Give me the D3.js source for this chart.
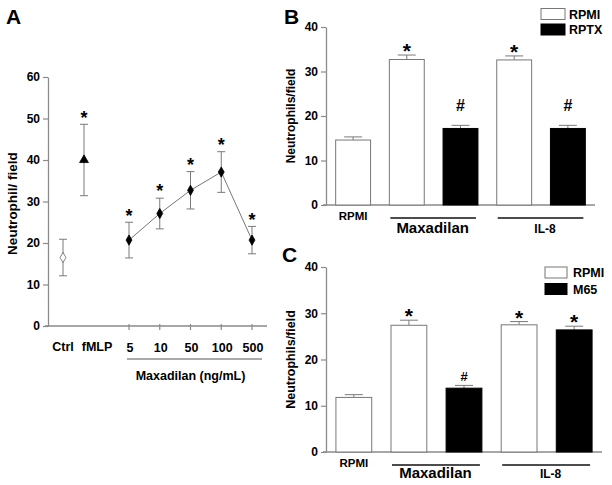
<!DOCTYPE html>
<html>
<head>
<meta charset="utf-8">
<script src="https://cdn.jsdelivr.net/npm/d3@7"></script>
<style>
  body { margin: 0; background: #fff; }
  svg { display: block; font-family: "Liberation Sans", Arial, sans-serif; font-weight: bold; }
</style>
</head>
<body>
<svg id="chart" width="612" height="485"></svg>
<script>
// ---- Panel A data (neutrophils per field, mean +/- error)
const ctrlLabels = ['Ctrl', 'fMLP'];
const ctrlMeans = [16.5, 40.0];
const ctrlErrs = [4.4, 8.6];
const ctrlSig = ['', '*'];
const doseLabels = ['5', '10', '50', '100', '500'];
const doseMeans = [20.7, 27.1, 32.7, 37.1, 20.7];
const doseErrs = [4.3, 3.7, 4.5, 4.9, 3.3];
const doseSig = ['*', '*', '*', '*', '*'];
const ticksA = [0, 10, 20, 30, 40, 50, 60];

// ---- Panels B and C data (5 bars each)
const slotGroups = ['RPMI', 'Maxadilan', 'Maxadilan', 'IL-8', 'IL-8'];
const seriesB = ['RPMI', 'RPMI', 'RPTX', 'RPMI', 'RPTX'];
const valuesB = [14.6, 32.7, 17.2, 32.6, 17.2];
const errorsB = [0.7, 1.0, 0.7, 0.9, 0.7];
const sigB = ['', '*', '#', '*', '#'];
const seriesC = ['RPMI', 'RPMI', 'M65', 'RPMI', 'M65'];
const valuesC = [11.8, 27.4, 13.8, 27.5, 26.4];
const errorsC = [0.6, 1.1, 0.6, 0.7, 0.8];
const sigC = ['', '*', '#', '*', '*'];
const ticksBC = [0, 10, 20, 30, 40];

const svg = d3.select('#chart');
const axisGray = '#8a8a8a';
const errGray = '#7a7a7a';

function styleAxis(g) {
  g.select('.domain').attr('stroke', axisGray).attr('stroke-width', 1.3);
  g.selectAll('.tick line').attr('stroke', axisGray).attr('stroke-width', 1.2);
  g.selectAll('.tick text').attr('fill', '#000').style('font-size', '12px').style('font-weight', 'bold')
    .style('font-family', '"Liberation Sans", Arial, sans-serif');
}

// ===================== Panel A =====================
const yA = d3.scaleLinear().domain([0, 60]).range([326, 77]);
const xCtrl = d3.scalePoint().domain(ctrlLabels).range([63, 84]);
const xCtrlLab = d3.scalePoint().domain(ctrlLabels).range([63, 97]);
const xDose = d3.scalePoint().domain(doseLabels).range([129, 252]);

svg.append('text').attr('x', 6).attr('y', 24).style('font-size', '21px').text('A');

svg.append('g').attr('transform', 'translate(48,0)')
  .call(d3.axisLeft(yA).tickValues(ticksA).tickSize(5).tickSizeOuter(0).tickPadding(3))
  .call(styleAxis);

// x axis line and dose ticks
svg.append('line').attr('x1', 45).attr('x2', 267).attr('y1', yA(0)).attr('y2', yA(0))
  .attr('stroke', axisGray).attr('stroke-width', 1.3);
svg.selectAll('.dtick').data(doseLabels).enter().append('line')
  .attr('x1', d => xDose(d)).attr('x2', d => xDose(d))
  .attr('y1', yA(0) - 2).attr('y2', yA(0) + 4)
  .attr('stroke', axisGray).attr('stroke-width', 1.2);

svg.append('text').attr('transform', 'translate(17,' + (yA(30) + 2) + ') rotate(-90)')
  .attr('text-anchor', 'middle').style('font-size', '13.5px').text('Neutrophil/ field');

// category labels
svg.selectAll('.clab').data(ctrlLabels).enter().append('text')
  .attr('x', d => xCtrlLab(d)).attr('y', 351).attr('text-anchor', 'middle')
  .style('font-size', '12.5px').text(d => d);
svg.selectAll('.dlab').data(doseLabels).enter().append('text')
  .attr('x', d => xDose(d) + 1).attr('y', 352).attr('text-anchor', 'middle')
  .style('font-size', '12.5px').text(d => d);
svg.append('line').attr('x1', xDose('5') - 2).attr('x2', xDose('500') + 10)
  .attr('y1', 359).attr('y2', 359).attr('stroke', '#555').attr('stroke-width', 1);
svg.append('text').attr('x', (xDose('5') + xDose('500')) / 2).attr('y', 380)
  .attr('text-anchor', 'middle').style('font-size', '12.5px').text('Maxadilan (ng/mL)');

// points
const ptsA = ctrlLabels.map((c, i) => ({ x: xCtrl(c), m: ctrlMeans[i], e: ctrlErrs[i], s: ctrlSig[i], kind: i === 0 ? 'open' : 'tri' }))
  .concat(doseLabels.map((c, i) => ({ x: xDose(c), m: doseMeans[i], e: doseErrs[i], s: doseSig[i], kind: 'dia' })));

const eA = svg.append('g');
ptsA.forEach(p => {
  eA.append('line').attr('x1', p.x).attr('x2', p.x).attr('y1', yA(p.m - p.e)).attr('y2', yA(p.m + p.e))
    .attr('stroke', errGray).attr('stroke-width', 1);
  [p.m - p.e, p.m + p.e].forEach(v => {
    eA.append('line').attr('x1', p.x - 4).attr('x2', p.x + 4).attr('y1', yA(v)).attr('y2', yA(v))
      .attr('stroke', errGray).attr('stroke-width', 1);
  });
});

svg.append('path')
  .datum(ptsA.filter(p => p.kind === 'dia'))
  .attr('d', d3.line().x(d => d.x).y(d => yA(d.m)))
  .attr('fill', 'none').attr('stroke', '#777').attr('stroke-width', 1);

ptsA.forEach(p => {
  const sym = p.kind === 'tri' ? d3.symbolTriangle : d3.symbolDiamond;
  const size = p.kind === 'tri' ? 34 : 30;
  svg.append('path').attr('d', d3.symbol().type(sym).size(size)())
    .attr('transform', 'translate(' + p.x + ',' + yA(p.m) + ')')
    .attr('fill', p.kind === 'open' ? '#fff' : '#000')
    .attr('stroke', p.kind === 'open' ? '#666' : '#000').attr('stroke-width', 0.8);
  if (p.s) {
    svg.append('text').attr('x', p.x).attr('y', yA(p.m + p.e) - 11 + 0.57 * 18)
      .attr('text-anchor', 'middle').style('font-size', '18px').text(p.s);
  }
});

// ===================== Panels B and C =====================
const seriesColor = d3.scaleOrdinal().domain(['RPMI', 'RPTX', 'M65']).range(['#fff', '#000', '#000']);

function barPanel(cfg) {
  const y = d3.scaleLinear().domain([0, 40]).range([cfg.y0, cfg.y1]);
  const x = d3.scaleBand().domain(d3.range(5)).range([cfg.xl, cfg.xr]).paddingInner(0.35).paddingOuter(0.18);
  const bw = x.bandwidth();

  svg.append('text').attr('x', cfg.letterX).attr('y', cfg.letterY).style('font-size', '21px').text(cfg.letter);

  svg.append('g').attr('transform', 'translate(' + cfg.xl + ',0)')
    .call(d3.axisLeft(y).tickValues(ticksBC).tickSize(5).tickSizeOuter(0).tickPadding(3))
    .call(styleAxis);
  svg.append('line').attr('x1', cfg.xl - 3).attr('x2', cfg.xr).attr('y1', y(0)).attr('y2', y(0))
    .attr('stroke', axisGray).attr('stroke-width', 1.3);

  svg.append('text').attr('transform', 'translate(295,' + y(20) + ') rotate(-90)')
    .attr('text-anchor', 'middle').style('font-size', cfg.ylabSize).text('Neutrophils/field');

  const idx = d3.range(5);
  // error bars (upper only)
  idx.forEach(i => {
    const cx = x(i) + bw / 2;
    svg.append('line').attr('x1', cx).attr('x2', cx).attr('y1', y(cfg.values[i])).attr('y2', y(cfg.values[i] + cfg.errors[i]))
      .attr('stroke', errGray).attr('stroke-width', 1);
    svg.append('line').attr('x1', cx - 9).attr('x2', cx + 9)
      .attr('y1', y(cfg.values[i] + cfg.errors[i])).attr('y2', y(cfg.values[i] + cfg.errors[i]))
      .attr('stroke', errGray).attr('stroke-width', 1);
  });

  svg.selectAll('.bar' + cfg.letter).data(idx).enter().append('rect')
    .attr('x', i => x(i)).attr('y', i => y(cfg.values[i]))
    .attr('width', bw).attr('height', i => y(0) - y(cfg.values[i]))
    .attr('fill', i => seriesColor(cfg.series[i]))
    .attr('stroke', i => cfg.series[i] === 'RPMI' ? '#777' : '#000').attr('stroke-width', 1);

  // significance marks
  idx.filter(i => cfg.sig[i]).forEach(i => {
    const top = y(cfg.values[i] + cfg.errors[i]);
    const isHash = cfg.sig[i] === '#';
    const fs = isHash ? cfg.hashSize : 21;
    const gap = isHash ? cfg.hashGap : 9;
    const base = top - gap + (isHash ? 0.35 : 0.57) * fs;
    svg.append('text').attr('x', x(i) + bw / 2).attr('y', base).attr('text-anchor', 'middle')
      .style('font-size', fs + 'px').text(cfg.sig[i]);
  });

  // group labels
  const groups = Array.from(new Set(slotGroups));
  groups.forEach(g => {
    const members = idx.filter(i => slotGroups[i] === g);
    const left = x(members[0]);
    const right = x(members[members.length - 1]) + bw;
    if (members.length > 1) {
      svg.append('line').attr('x1', left + 1).attr('x2', right - 2)
        .attr('y1', cfg.lineY).attr('y2', cfg.lineY).attr('stroke', '#111').attr('stroke-width', 1.5);
      svg.append('text').attr('x', (left + right) / 2 + (g === 'Maxadilan' ? -1 : 4))
        .attr('y', cfg.groupY).attr('text-anchor', 'middle')
        .style('font-size', g === 'Maxadilan' ? '15px' : '12px').text(g);
    } else {
      svg.append('text').attr('x', (left + right) / 2).attr('y', cfg.singleY).attr('text-anchor', 'middle')
        .style('font-size', '11.5px').text(g);
    }
  });

  // legend
  const legKeys = Array.from(new Set(cfg.series));
  legKeys.forEach((k, j) => {
    svg.append('rect').attr('x', cfg.legX).attr('y', cfg.legY + j * cfg.legStep)
      .attr('width', cfg.legW).attr('height', 11)
      .attr('fill', seriesColor(k)).attr('stroke', k === 'RPMI' ? '#777' : '#000').attr('stroke-width', 1);
    svg.append('text').attr('x', cfg.legX + cfg.legW + cfg.legGap).attr('y', cfg.legY + j * cfg.legStep + 10)
      .style('font-size', '12.5px').text(k);
  });
}

barPanel({
  letter: 'B', letterX: 284, letterY: 24,
  xl: 326, xr: 595, y0: 205, y1: 27,
  values: valuesB, errors: errorsB, sig: sigB, series: seriesB,
  hashSize: 16, hashGap: 20, ylabSize: '12px',
  lineY: 218, groupY: 233, singleY: 220,
  legX: 541, legY: 8.5, legStep: 15.5, legW: 24, legGap: 4
});

barPanel({
  letter: 'C', letterX: 282, letterY: 262,
  xl: 326, xr: 602, y0: 452, y1: 267,
  values: valuesC, errors: errorsC, sig: sigC, series: seriesC,
  hashSize: 13, hashGap: 9, ylabSize: '12.5px',
  lineY: 465, groupY: 478, singleY: 467,
  legX: 545, legY: 267, legStep: 16.5, legW: 22, legGap: 6
});
</script>
</body>
</html>
